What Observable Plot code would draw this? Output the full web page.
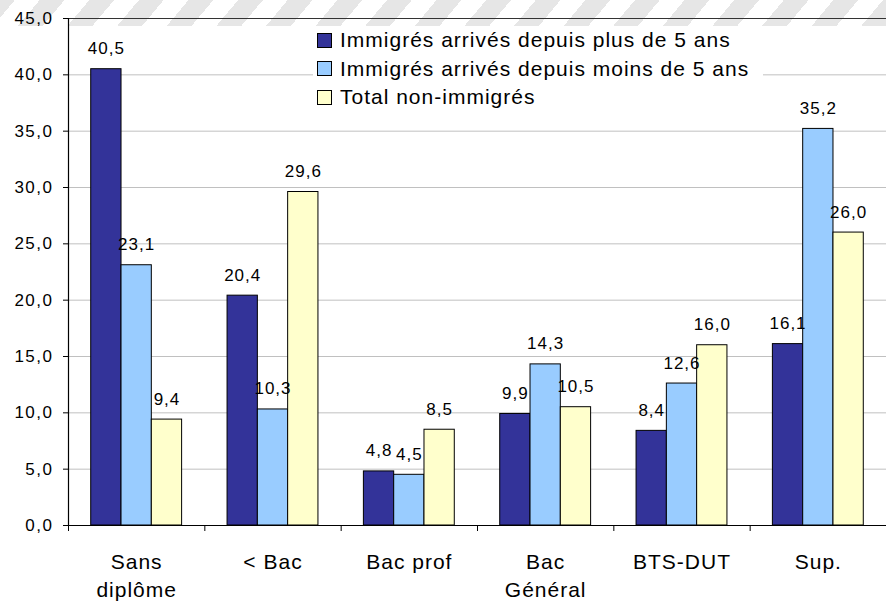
<!DOCTYPE html>
<html>
<head>
<meta charset="utf-8">
<script src="https://cdn.jsdelivr.net/npm/d3@7"></script>
<script src="https://cdn.jsdelivr.net/npm/@observablehq/plot@0.6"></script>
<style>
  html, body { margin: 0; padding: 0; background: #fff; }
  #wrap { position: relative; width: 886px; height: 603px; font-family: "Liberation Sans", Arial, sans-serif; }
  #stripes { position: absolute; left: 0; top: 0; width: 886px; height: 26px;
    background: repeating-linear-gradient(-50deg, #e6e6e6 0px, #e6e6e6 19px, #ffffff 19px, #ffffff 38px); }
  #chart { position: absolute; left: 0; top: 0; }
  #chart svg text { letter-spacing: 1px; }
  #chart svg g[aria-label="y-axis tick label"] text { letter-spacing: 1.5px; }
  #legend { position: absolute; left: 313px; top: 26px; width: 450px; height: 86px; background: #fff; }
  .row { height: 28.5px; display: flex; align-items: center; font-size: 21px; letter-spacing: 1px; color: #000; }
  .sw { width: 13px; height: 13px; border: 1px solid #000; margin-left: 4px; margin-right: 8px; flex: none; }
</style>
</head>
<body>
<div id="wrap">
  <div id="stripes"></div>
  <div id="chart"></div>
  <div id="legend"></div>
</div>
<script>
const categories = ["Sans\ndiplôme", "< Bac", "Bac prof", "Bac\nGénéral", "BTS-DUT", "Sup."];
const seriesNames = [
  "Immigrés arrivés depuis plus de 5 ans",
  "Immigrés arrivés depuis moins de 5 ans",
  "Total non-immigrés"
];
const plus5 = [40.5, 20.4, 4.8, 9.9, 8.4, 16.1];
const moins5 = [23.1, 10.3, 4.5, 14.3, 12.6, 35.2];
const nonImm = [9.4, 29.6, 8.5, 10.5, 16.0, 26.0];
const colors = ["#333399", "#99CCFF", "#FFFFCC"];
const yTicks = [0, 5, 10, 15, 20, 25, 30, 35, 40, 45];

const values = [plus5, moins5, nonImm];
const rows = [];
categories.forEach((c, i) => {
  values.forEach((arr, s) => {
    // group occupies middle 2/3 of category slot, three contiguous bars
    const x1 = i + 1 / 6 + s * 2 / 9;
    rows.push({cat: c, series: seriesNames[s], s, value: arr[i], x1, x2: x1 + 2 / 9});
  });
});
const fmt = v => v.toFixed(1).replace(".", ",");

const chart = Plot.plot({
  width: 886,
  height: 603,
  marginLeft: 68,
  marginRight: 0,
  marginTop: 18,
  marginBottom: 78,
  style: {fontFamily: "Liberation Sans, Arial, sans-serif", background: "transparent", color: "#000", overflow: "visible"},
  x: {domain: [0, categories.length], axis: null},
  y: {domain: [0, 45], axis: null},
  color: {domain: seriesNames, range: colors},
  marks: [
    Plot.ruleY(yTicks.filter(d => d > 0 && d < 45), {stroke: "#c0c0c0", strokeWidth: 1}),
    Plot.ruleY([45], {stroke: "#333333", strokeWidth: 1.2}),
    Plot.rectY(rows, {x1: "x1", x2: "x2", y: "value", fill: "series", stroke: "#000", strokeWidth: 1}),
    Plot.text(rows, {x: d => (d.x1 + d.x2) / 2, y: "value", text: d => fmt(d.value), dy: -15,
      lineAnchor: "bottom", fontSize: 17, fill: "#000"}),
    Plot.ruleY([0], {stroke: "#000", strokeWidth: 1.2}),
    Plot.ruleX([0], {stroke: "#000", strokeWidth: 1.2}),
    Plot.axisY({ticks: yTicks, tickSize: 5, tickPadding: 10, tickFormat: fmt, fontSize: 17, label: null}),
    Plot.axisX({ticks: d3.range(categories.length + 1), tickSize: 6, tickFormat: () => "", label: null}),
    Plot.text(categories, {x: (d, i) => i + 0.5, y: () => 0, text: d => d, dy: 24, lineAnchor: "top",
      fontSize: 21, lineHeight: 1.33, fill: "#000"})
  ]
});
document.getElementById("chart").appendChild(chart);

const legend = document.getElementById("legend");
seriesNames.forEach((name, i) => {
  const row = document.createElement("div");
  row.className = "row";
  const sw = document.createElement("span");
  sw.className = "sw";
  sw.style.background = colors[i];
  const t = document.createElement("span");
  t.textContent = name;
  row.appendChild(sw);
  row.appendChild(t);
  legend.appendChild(row);
});
</script>
</body>
</html>
